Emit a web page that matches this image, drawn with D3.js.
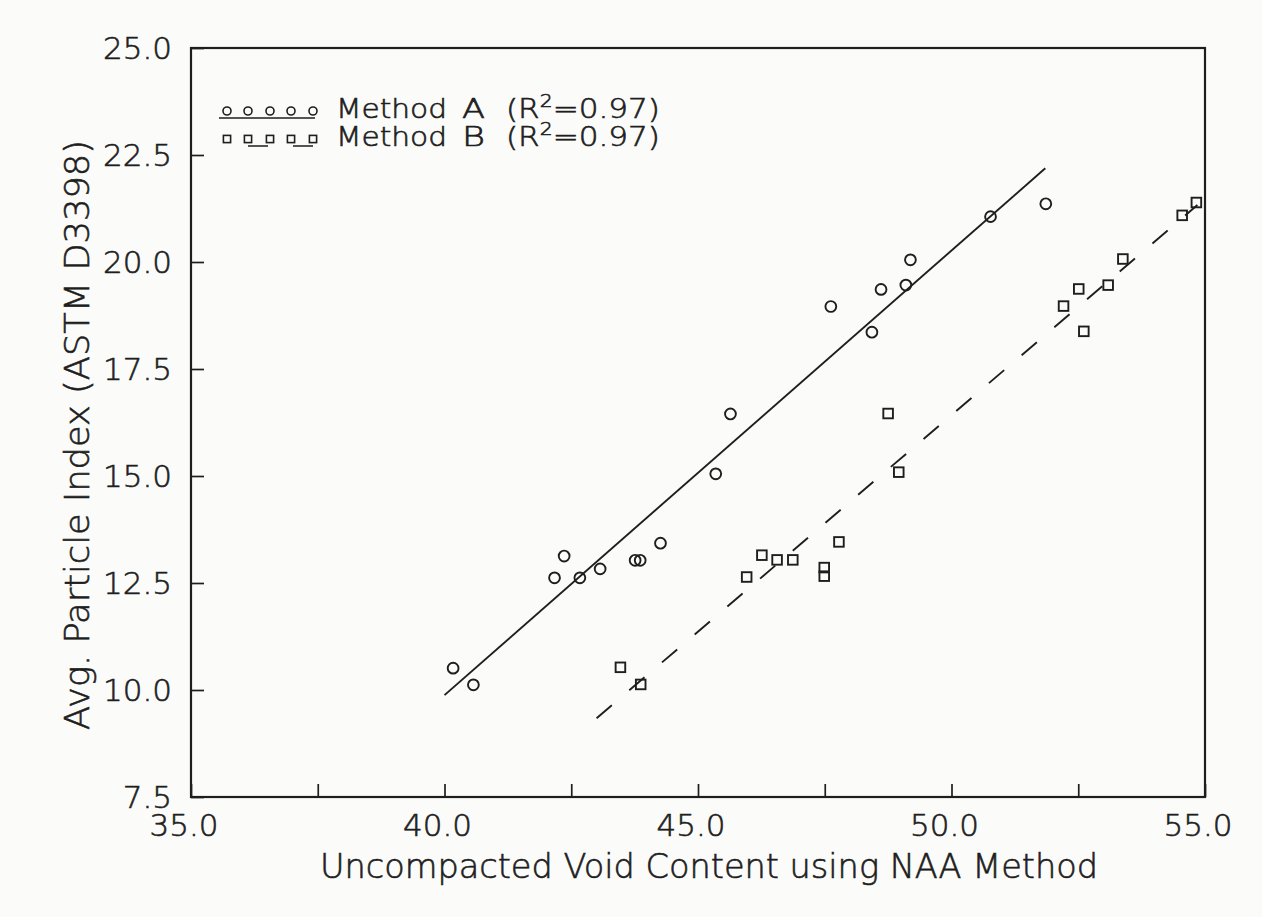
<!DOCTYPE html>
<html>
<head>
<meta charset="utf-8">
<script src="https://cdn.jsdelivr.net/npm/d3@7"></script>
<style>
  html, body { margin: 0; padding: 0; background: #fbfbf9; }
  svg { display: block; }
  text { font-family: "DejaVu Sans", sans-serif; font-weight: 200; fill: #1e1e1e; stroke: #1e1e1e; stroke-width: 0.6px; }
</style>
</head>
<body>
<svg id="chart" width="1262" height="917"></svg>
<script>
// ---- data ----
const methodA_x = [40.17, 40.57, 42.17, 42.36, 42.67, 43.07, 43.76, 43.86, 44.26, 45.35, 45.64, 47.62, 48.43, 48.61, 49.10, 49.19, 50.77, 51.86];
const methodA_y = [10.51, 10.12, 12.62, 13.13, 12.62, 12.83, 13.03, 13.03, 13.43, 15.05, 16.45, 18.96, 18.36, 19.36, 19.46, 20.05, 21.06, 21.36];
const methodB_x = [43.47, 43.87, 45.96, 46.26, 46.56, 46.87, 47.49, 47.49, 47.78, 48.75, 48.96, 52.21, 52.51, 52.61, 53.09, 53.38, 54.55, 54.83];
const methodB_y = [10.53, 10.13, 12.64, 13.15, 13.04, 13.04, 12.86, 12.66, 13.46, 16.46, 15.09, 18.97, 19.37, 18.38, 19.46, 20.07, 21.09, 21.39];
const fitA_x = [40.0, 51.85];
const fitA_y = [9.88, 22.19];
const fitB_x = [43.0, 54.85];
const fitB_y = [9.34, 21.33];
const xTicks = [35, 37.5, 40, 42.5, 45, 47.5, 50, 52.5, 55];
const xTickLabels = ["35.0", "40.0", "45.0", "50.0", "55.0"];
const yTicks = [7.5, 10, 12.5, 15, 17.5, 20, 22.5, 25];
const yTickLabels = ["7.5", "10.0", "12.5", "15.0", "17.5", "20.0", "22.5", "25.0"];
const legendNames = ["A", "B"];
const legendR2 = ["0.97", "0.97"];
const xTitle = "Uncompacted Void Content using NAA Method";
const yTitle = "Avg. Particle Index (ASTM D3398)";

// ---- layout ----
const svg = d3.select("#chart");
const ink = "#1e1e1e";
const bg = "#fbfbf9";
const L = 191, R = 1205, T = 48, B = 797;
const x = d3.scaleLinear().domain([35, 55]).range([L, R]);
const y = d3.scaleLinear().domain([7.5, 25]).range([B, T]);

// frame
svg.append("rect").attr("x", L).attr("y", T).attr("width", R - L).attr("height", B - T)
  .attr("fill", "none").attr("stroke", ink).attr("stroke-width", 2.2);

// x ticks (inward)
const xAxis = d3.axisTop(x).tickValues(xTicks).tickSize(13).tickFormat("");
const gx = svg.append("g").attr("transform", `translate(0,${B})`).call(xAxis);
gx.select(".domain").remove();
gx.selectAll("line").attr("stroke", ink).attr("stroke-width", 1.7);
svg.selectAll(".xlab").data(xTickLabels).enter().append("text")
  .attr("x", d => x(+d) - 7).attr("y", 836)
  .attr("text-anchor", "middle").attr("font-size", 31).text(d => d);

// y ticks (inward)
const yAxis = d3.axisRight(y).tickValues(yTicks).tickSize(13).tickFormat("");
const gy = svg.append("g").attr("transform", `translate(${L},0)`).call(yAxis);
gy.select(".domain").remove();
gy.selectAll("line").attr("stroke", ink).attr("stroke-width", 1.7);
svg.selectAll(".ylab").data(yTickLabels).enter().append("text")
  .attr("x", 172).attr("y", d => y(+d)).attr("dy", "0.36em")
  .attr("text-anchor", "end").attr("font-size", 31).text(d => d);

// axis titles
svg.append("text").attr("x", 709).attr("y", 878).attr("text-anchor", "middle")
  .attr("font-size", 33).attr("textLength", 778).attr("lengthAdjust", "spacingAndGlyphs")
  .text(xTitle);
svg.append("text").attr("transform", "translate(89,435) rotate(-90)")
  .attr("text-anchor", "middle").attr("font-size", 33)
  .attr("textLength", 590).attr("lengthAdjust", "spacingAndGlyphs").text(yTitle);

// fit lines
const line = d3.line().x(d => x(d[0])).y(d => y(d[1]));
svg.append("path").datum(d3.zip(fitA_x, fitA_y)).attr("d", line)
  .attr("fill", "none").attr("stroke", ink).attr("stroke-width", 1.9);
svg.append("path").datum(d3.zip(fitB_x, fitB_y)).attr("d", line)
  .attr("fill", "none").attr("stroke", ink).attr("stroke-width", 1.9)
  .attr("stroke-dasharray", "20,23");

// points
svg.append("g").selectAll("circle").data(d3.zip(methodA_x, methodA_y)).enter()
  .append("circle").attr("cx", d => x(d[0])).attr("cy", d => y(d[1])).attr("r", 5.4)
  .attr("fill", "none").attr("stroke", ink).attr("stroke-width", 1.9);
svg.append("g").selectAll("rect").data(d3.zip(methodB_x, methodB_y)).enter()
  .append("rect").attr("x", d => x(d[0]) - 4.8).attr("y", d => y(d[1]) - 4.8)
  .attr("width", 9.6).attr("height", 9.6)
  .attr("fill", "none").attr("stroke", ink).attr("stroke-width", 1.9);

// legend
const symX = [227, 248, 270, 291, 313];
const rows = [111, 139];
const lg = svg.append("g");
// row A
lg.append("line").attr("x1", 219).attr("x2", 315).attr("y1", 118).attr("y2", 118)
  .attr("stroke", ink).attr("stroke-width", 1.7);
lg.selectAll(".lc").data(symX).enter().append("circle")
  .attr("cx", d => d).attr("cy", rows[0]).attr("r", 4)
  .attr("fill", bg).attr("stroke", ink).attr("stroke-width", 1.6);
// row B
lg.append("line").attr("x1", 219).attr("x2", 315).attr("y1", 146).attr("y2", 146)
  .attr("stroke", ink).attr("stroke-width", 1.7)
  .attr("stroke-dasharray", "0,29,20,25,20,25");
lg.selectAll(".ls").data(symX).enter().append("rect")
  .attr("x", d => d - 3.6).attr("y", rows[1] - 3.6).attr("width", 7.2).attr("height", 7.2)
  .attr("fill", bg).attr("stroke", ink).attr("stroke-width", 1.6);

legendNames.forEach((nm, i) => {
  const base = i === 0 ? 118 : 146;
  lg.append("text").attr("x", 336).attr("y", base).attr("font-size", 26)
    .attr("textLength", 111).attr("lengthAdjust", "spacingAndGlyphs").text("Method");
  lg.append("text").attr("x", 462).attr("y", base).attr("font-size", 26)
    .attr("textLength", 23).attr("lengthAdjust", "spacingAndGlyphs").text(nm);
  const t = lg.append("text").attr("x", 506).attr("y", base).attr("font-size", 26)
    .attr("textLength", 154).attr("lengthAdjust", "spacingAndGlyphs");
  t.append("tspan").text("(R");
  t.append("tspan").attr("dy", -11).attr("font-size", 17).text("2");
  t.append("tspan").attr("dy", 11).text("=" + legendR2[i] + ")");
});
</script>
</body>
</html>
